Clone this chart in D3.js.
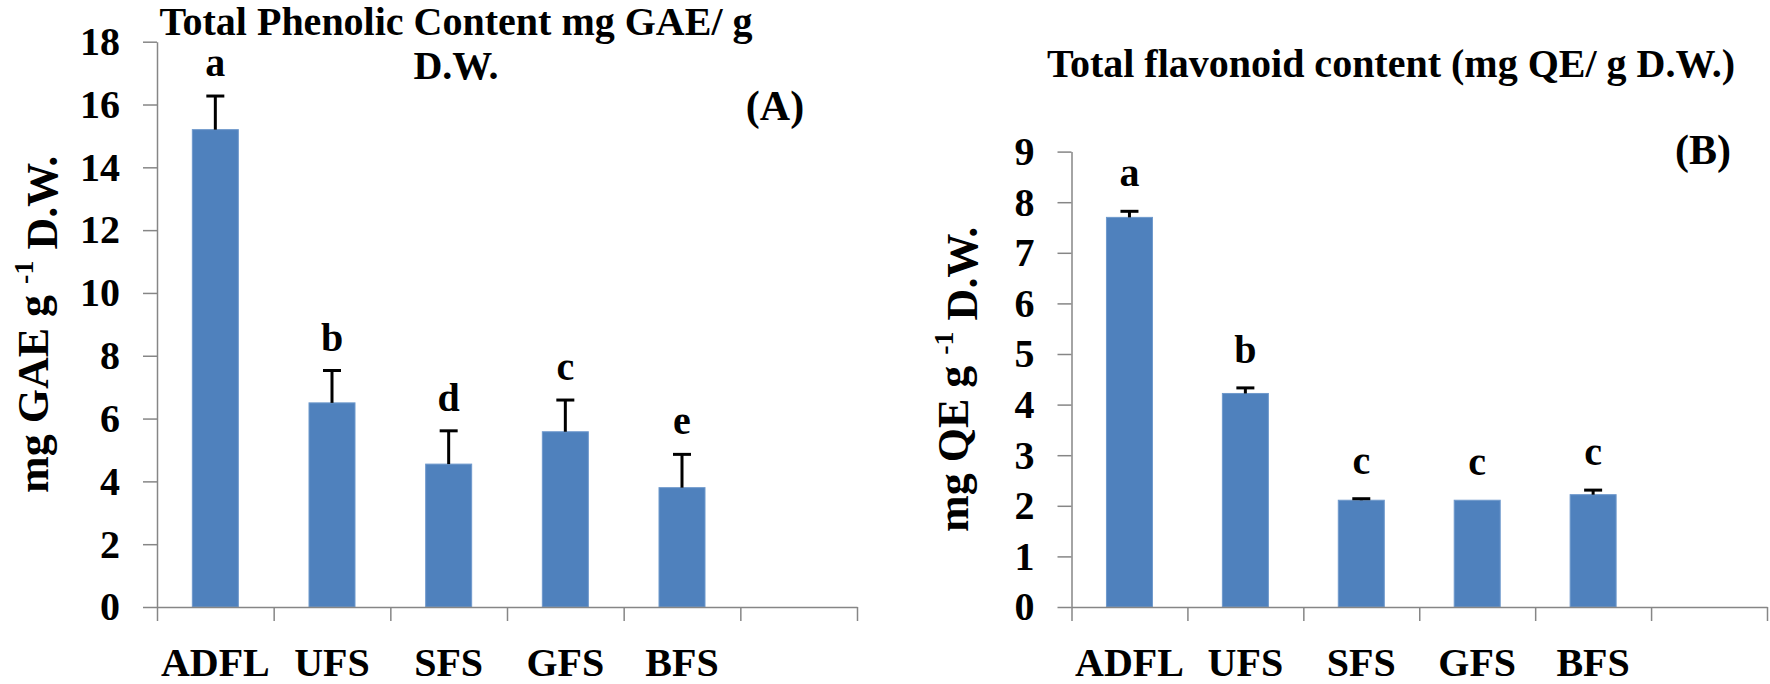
<!DOCTYPE html>
<html>
<head>
<meta charset="utf-8">
<script src="https://cdn.jsdelivr.net/npm/d3@7"></script>
<style>
	body { margin: 0; background: #ffffff; }
	svg text { font-family: "Liberation Serif", "Times New Roman", serif; font-weight: bold; fill: #000000; }
	.axis path, .axis line { stroke: #868686; stroke-width: 1.5; }
	.axis text { font-size: 40px; }
</style>
</head>
<body>
<div id="container"></div>
<script>

// categories on the x axis (same for both panels)
var categories = ["ADFL", "UFS", "SFS", "GFS", "BFS"];

// panel A: total phenolic content
var phenolic = [15.2, 6.5, 4.55, 5.58, 3.8];
var phenolicErr = [1.07, 1.03, 1.06, 1.01, 1.06];
var phenolicLetters = ["a", "b", "d", "c", "e"];
var phenolicTicks = [0, 2, 4, 6, 8, 10, 12, 14, 16, 18];

// panel B: total flavonoid content
var flavonoid = [7.7, 4.22, 2.11, 2.11, 2.22];
var flavonoidErr = [0.12, 0.11, 0.03, 0, 0.09];
var flavonoidLetters = ["a", "b", "c", "c", "c"];
var flavonoidTicks = [0, 1, 2, 3, 4, 5, 6, 7, 8, 9];

var width = 1770;
var height = 684;

var svg = d3.select("#container")
	.append("svg")
	.attr("width", width)
	.attr("height", height);

// draws one bar panel with its own axes
function drawPanel(p) {

	var g = svg.append("g");

	// put the arrays together per category
	var rows = categories.map(function(c, i) {
		return {cat: c, value: p.values[i], err: p.errors[i], letter: p.letters[i]};
	});

	// one empty slot after the last category, like the original
	var step = (p.right - p.left) / (categories.length + 1);

	var x = d3.scaleBand()
		.domain(categories)
		.range([p.left, p.left + step * categories.length])
		.paddingInner(1 - p.barWidth / step)
		.paddingOuter((1 - p.barWidth / step) / 2);

	var y = d3.scaleLinear()
		.domain([0, p.ticks[p.ticks.length - 1]])
		.range([p.bottom, p.top]);

	// boundaries between the categories, used for the x tick marks
	var slots = d3.scaleLinear()
		.domain([0, categories.length + 1])
		.range([p.left, p.right]);

	function mid(d) { return x(d.cat) + x.bandwidth() / 2; };

	// bars
	g.selectAll(".bar")
		.data(rows)
		.enter()
		.append("rect")
		.attr("class", "bar")
		.attr("x", function(d) { return x(d.cat); })
		.attr("y", function(d) { return y(d.value); })
		.attr("width", x.bandwidth())
		.attr("height", function(d) { return y(0) - y(d.value); })
		.style("fill", "#4f81bd")
		.style("stroke", "#6f99cc")
		.style("stroke-width", 1);

	// error bars, upper half only
	var errs = g.selectAll(".err")
		.data(rows.filter(function(d) { return d.err > 0; }))
		.enter()
		.append("g")
		.attr("class", "err");
	errs.append("line")
		.attr("x1", mid)
		.attr("x2", mid)
		.attr("y1", function(d) { return y(d.value); })
		.attr("y2", function(d) { return y(d.value + d.err); })
		.style("stroke", "#000")
		.style("stroke-width", 3);
	errs.append("line")
		.attr("x1", function(d) { return mid(d) - 9; })
		.attr("x2", function(d) { return mid(d) + 9; })
		.attr("y1", function(d) { return y(d.value + d.err); })
		.attr("y2", function(d) { return y(d.value + d.err); })
		.style("stroke", "#000")
		.style("stroke-width", 3);

	// significance letters
	g.selectAll(".letter")
		.data(rows)
		.enter()
		.append("text")
		.attr("class", "letter")
		.attr("x", mid)
		.attr("y", function(d) { return y(d.value + d.err) - p.letterGap; })
		.style("text-anchor", "middle")
		.style("font-size", "40px")
		.text(function(d) { return d.letter; });

	// y axis
	g.append("g")
		.attr("class", "axis")
		.attr("transform", "translate(" + p.left + ",0)")
		.call(d3.axisLeft(y).tickValues(p.ticks).tickSize(14).tickSizeOuter(0).tickPadding(23));

	// x axis: tick marks on the slot boundaries
	g.append("g")
		.attr("class", "axis")
		.attr("transform", "translate(0," + p.bottom + ")")
		.call(d3.axisBottom(slots).ticks(categories.length + 1).tickSize(14).tickSizeOuter(0).tickFormat(""));

	// category labels
	g.selectAll(".cat")
		.data(rows)
		.enter()
		.append("text")
		.attr("class", "cat")
		.attr("x", mid)
		.attr("y", 676)
		.style("text-anchor", "middle")
		.style("font-size", "40px")
		.text(function(d) { return d.cat; });

	// title, one or two lines
	p.title.forEach(function(line, i) {
		g.append("text")
			.attr("x", p.titleX)
			.attr("y", p.titleY + i * 44)
			.style("text-anchor", "middle")
			.style("font-size", "40px")
			.text(line);
	});

	// panel letter
	g.append("text")
		.attr("x", p.tagX)
		.attr("y", p.tagY)
		.style("text-anchor", "middle")
		.style("font-size", "42px")
		.text(p.tag);

	// y axis label with superscript
	var label = g.append("text")
		.attr("transform", "translate(" + p.labelX + "," + ((p.top + p.bottom) / 2) + ") rotate(-90)")
		.style("text-anchor", "middle")
		.style("font-size", "44px");
	label.append("tspan").text(p.unit + " g ");
	label.append("tspan")
		.attr("dy", "-0.55em")
		.style("font-size", "28px")
		.text("-1");
	label.append("tspan")
		.attr("dy", "0.55em")
		.text(" D.W.");
};

drawPanel({
	left: 157, right: 857, top: 41.7, bottom: 607, barWidth: 46,
	values: phenolic, errors: phenolicErr, letters: phenolicLetters, ticks: phenolicTicks,
	letterGap: 20,
	title: ["Total Phenolic Content mg GAE/ g", "D.W."], titleX: 456, titleY: 35,
	tag: "(A)", tagX: 775, tagY: 120,
	unit: "mg GAE", labelX: 48
});

drawPanel({
	left: 1071.5, right: 1767, top: 151.6, bottom: 607, barWidth: 46,
	values: flavonoid, errors: flavonoidErr, letters: flavonoidLetters, ticks: flavonoidTicks,
	letterGap: 25,
	title: ["Total flavonoid content (mg QE/ g D.W.)"], titleX: 1391, titleY: 77,
	tag: "(B)", tagX: 1703, tagY: 164,
	unit: "mg QE", labelX: 968
});

</script>
</body>
</html>
